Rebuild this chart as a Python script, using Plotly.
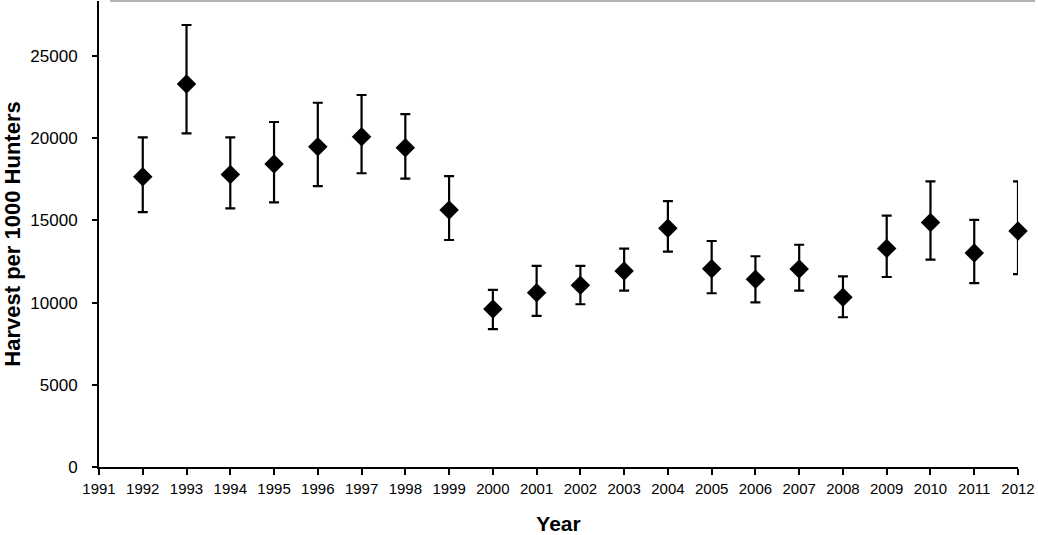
import plotly.graph_objects as go

years = list(range(1992, 2013))
harvest = [17660, 23300, 17800, 18430, 19480, 20090, 19420, 15630, 9610, 10600,
           11050, 11920, 14520, 12060, 11420, 12040, 10320, 13300, 14880, 13020, 14360]
upper = [20050, 26890, 20050, 20990, 22160, 22630, 21470, 17700, 10770, 12230,
         12230, 13280, 16180, 13750, 12820, 13520, 11600, 15290, 17380, 15040, 17380]
lower = [15510, 20300, 15740, 16100, 17090, 17870, 17540, 13810, 8390, 9190,
         9900, 10730, 13100, 10570, 10020, 10730, 9110, 11560, 12610, 11190, 11740]

x_ticks = list(range(1991, 2013))
y_ticks = [0, 5000, 10000, 15000, 20000, 25000]

err_plus = [u - h for u, h in zip(upper, harvest)]
err_minus = [h - l for h, l in zip(harvest, lower)]

fig = go.Figure()
fig.add_trace(go.Scatter(
    x=years, y=harvest, mode="markers", cliponaxis=False,
    marker=dict(symbol="diamond", size=15, color="black"),
    error_y=dict(type="data", symmetric=False, array=err_plus, arrayminus=err_minus,
                 color="black", thickness=2.2, width=5),
    showlegend=False,
))

font_family = "Liberation Sans, Arial, sans-serif"
fig.update_layout(
    width=1038, height=535,
    margin=dict(l=99, r=20, t=1, b=68),
    paper_bgcolor="white", plot_bgcolor="white",
    font=dict(family=font_family, color="black"),
    xaxis=dict(
        range=[1991, 2012], tickmode="array", tickvals=x_ticks,
        ticktext=[str(v) for v in x_ticks],
        showgrid=False, zeroline=False, showline=True, linecolor="black", linewidth=2,
        ticks="outside", ticklen=6, tickwidth=1.5, tickcolor="black",
        tickfont=dict(size=15, family=font_family), ticklabelstandoff=1,
        title=dict(text="<b>Year</b>", font=dict(size=21, family=font_family), standoff=23),
    ),
    yaxis=dict(
        range=[0, 28350], tickmode="array", tickvals=y_ticks,
        ticktext=[str(v) for v in y_ticks],
        showgrid=False, zeroline=False, showline=True, linecolor="black", linewidth=2,
        ticks="outside", ticklen=5, tickwidth=1.5, tickcolor="black",
        tickfont=dict(size=17, family=font_family), ticklabelstandoff=11,
        title=dict(text="<b>Harvest per 1000 Hunters</b>", font=dict(size=22, family=font_family), standoff=6),
    ),
    shapes=[dict(type="line", xref="paper", yref="paper", x0=0.012, x1=1.0185, y0=1, y1=1,
                 line=dict(color="#999999", width=1.5))],
)

fig.write_html("out.html", config={"displayModeBar": False},
               post_script="document.body.style.margin='0px';document.body.style.overflow='hidden';")
